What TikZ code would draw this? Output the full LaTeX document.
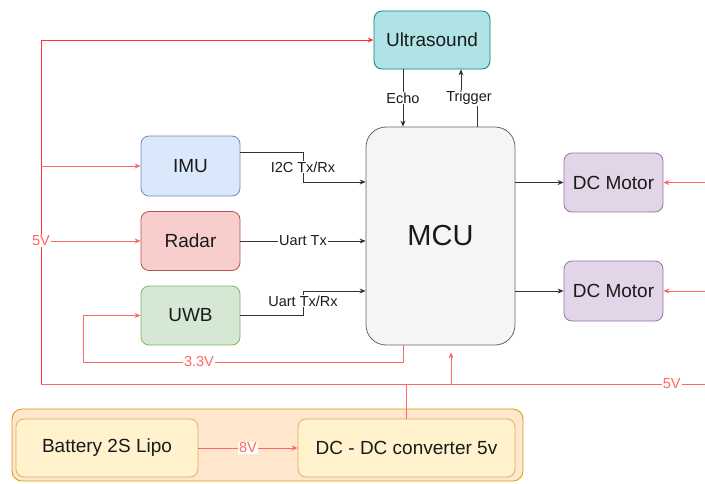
\documentclass[tikz,border=0pt]{standalone}
\usepackage{fontspec}
\setmainfont{Liberation Sans}
\usetikzlibrary{arrows.meta}
\definecolor{txt}{HTML}{1A1A1A}
\definecolor{usf}{HTML}{B0E3E6}\definecolor{usd}{HTML}{0E8088}
\definecolor{imuf}{HTML}{DAE8FC}\definecolor{imud}{HTML}{6C8EBF}
\definecolor{radf}{HTML}{F8CECC}\definecolor{radd}{HTML}{B85450}
\definecolor{uwbf}{HTML}{D5E8D4}\definecolor{uwbd}{HTML}{82B366}
\definecolor{mcuf}{HTML}{F5F5F5}\definecolor{mcud}{HTML}{666666}
\definecolor{motf}{HTML}{E1D5E7}\definecolor{motd}{HTML}{9673A6}
\definecolor{conf}{HTML}{FFE6CC}\definecolor{cond}{HTML}{D79B00}
\definecolor{batf}{HTML}{FFF2CC}\definecolor{batd}{HTML}{D6B656}
\definecolor{redA}{HTML}{FF3333}
\definecolor{redB}{HTML}{FF6666}
\definecolor{wire}{HTML}{333333}
\tikzset{
  box/.style={draw, rounded corners=8pt, line width=0.8pt, inner sep=0pt, text=txt,
    font=\fontsize{19}{22}\selectfont},
  lbl/.style={fill=white, inner sep=1pt, text=txt, font=\fontsize{14.5}{17}\selectfont},
  rlbl/.style={fill=white, inner sep=1pt, text=redB, font=\fontsize{14.5}{17}\selectfont},
  arr/.style={-{Stealth[length=6pt,width=5pt]}},
  data/.style={draw=wire, line width=0.8pt},
  pwrA/.style={draw=redA, line width=0.9pt},
  pwrB/.style={draw=redB, line width=0.9pt},
}
\begin{document}
\begin{tikzpicture}[x=1pt,y=-1pt]
\useasboundingbox (0,0) rectangle (705,483);
% container
\node[draw=cond, fill=conf, rounded corners=10pt, line width=0.8pt, minimum width=511pt, minimum height=72pt, inner sep=0pt] (cont) at (267.5,445) {};
% nodes
\node[box, fill=usf, draw=usd, minimum width=116pt, minimum height=58pt] (us) at (432,40) {Ultrasound};
\node[box, fill=imuf, draw=imud, minimum width=99pt, minimum height=60pt] (imu) at (190.5,166) {IMU};
\node[box, fill=radf, draw=radd, minimum width=99pt, minimum height=59pt] (radar) at (190.5,241) {Radar};
\node[box, fill=uwbf, draw=uwbd, minimum width=99pt, minimum height=59pt] (uwb) at (190.5,315.5) {UWB};
\node[box, fill=mcuf, draw=mcud, rounded corners=20pt, minimum width=149pt, minimum height=218pt, font=\fontsize{29}{33}\selectfont] (mcu) at (440.5,236) {MCU};
\node[box, fill=motf, draw=motd, minimum width=99pt, minimum height=59pt] (m1) at (613.5,182.5) {DC Motor};
\node[box, fill=motf, draw=motd, minimum width=99pt, minimum height=60pt] (m2) at (613.5,291) {DC Motor};
\node[box, fill=batf, draw=batd, minimum width=182pt, minimum height=58pt] (bat) at (107,448) {Battery 2S Lipo};
\node[box, fill=batf, draw=batd, minimum width=217pt, minimum height=58pt] (dcdc) at (406.5,448) {DC - DC converter 5v};
% coordinates
\coordinate (busL) at (41,384);
\coordinate (busR) at (705,384);
\coordinate (mcuin) at (451,384);
\coordinate (r1) at (705,182.5);
\coordinate (r2) at (705,291);
\coordinate (imuout) at (240,152);
\coordinate (i2cbend) at (303,152);
\coordinate (uwbbend) at (303,291);
\coordinate (echo) at (403,0);
\coordinate (trigout) at (477,0);
\coordinate (trigin) at (461,98);
\coordinate (v33) at (403,362);
\coordinate (v33l) at (83,362);
% power lines
\draw[pwrB] (dcdc.north) -- (dcdc.north |- busL);
\draw[pwrB] (busL) -- (busR) node[rlbl, pos=0.95] {5V};
\draw[pwrA, arr] (busL) |- (us.west);
\draw[pwrB, arr] (busL |- imu.west) -- (imu.west);
\draw[pwrB, arr] (busL |- radar.west) -- (radar.west);
\node[rlbl] (v5) at (busL |- radar.west) {5V};
\draw[pwrB, arr, shorten >=7pt] (mcuin) -- (mcu.south -| mcuin);
\draw[pwrB, arr] (mcu.south -| v33) -- (v33) -- (v33l) |- (uwb.west);
\node[rlbl] (l33) at (199,362) {3.3V};
\draw[pwrB, arr] (r1) -- (m1.east);
\draw[pwrB, arr] (r2) -- (m2.east);
\draw[pwrB, arr] (bat.east) -- (dcdc.west) node[rlbl, midway] {8V};
% data lines
\draw[data, arr] (imuout) -- (i2cbend) |- (mcu.west |- 0,182);
\node[lbl] (li2c) at (303,167) {I2C Tx/Rx};
\draw[data, arr] (radar.east) -- (mcu.west |- radar.east);
\node[lbl] (luart) at (303,241) {Uart Tx};
\draw[data, arr] (uwb.east) -| (uwbbend) -- (mcu.west |- uwbbend);
\node[lbl] (luart2) at (303,301) {Uart Tx/Rx};
\draw[data, arr] (us.south -| echo) -- (mcu.north -| echo);
\node[lbl] (lecho) at (403,98) {Echo};
\draw[data, arr] (mcu.north -| trigout) -- (trigout |- trigin) -- (trigin) -- (us.south -| trigin);
\node[lbl] (ltrig) at (469,98) {Trigger};
\draw[data, arr] (mcu.east |- m1.west) -- (m1.west);
\draw[data, arr] (mcu.east |- m2.west) -- (m2.west);
\end{tikzpicture}
\end{document}
